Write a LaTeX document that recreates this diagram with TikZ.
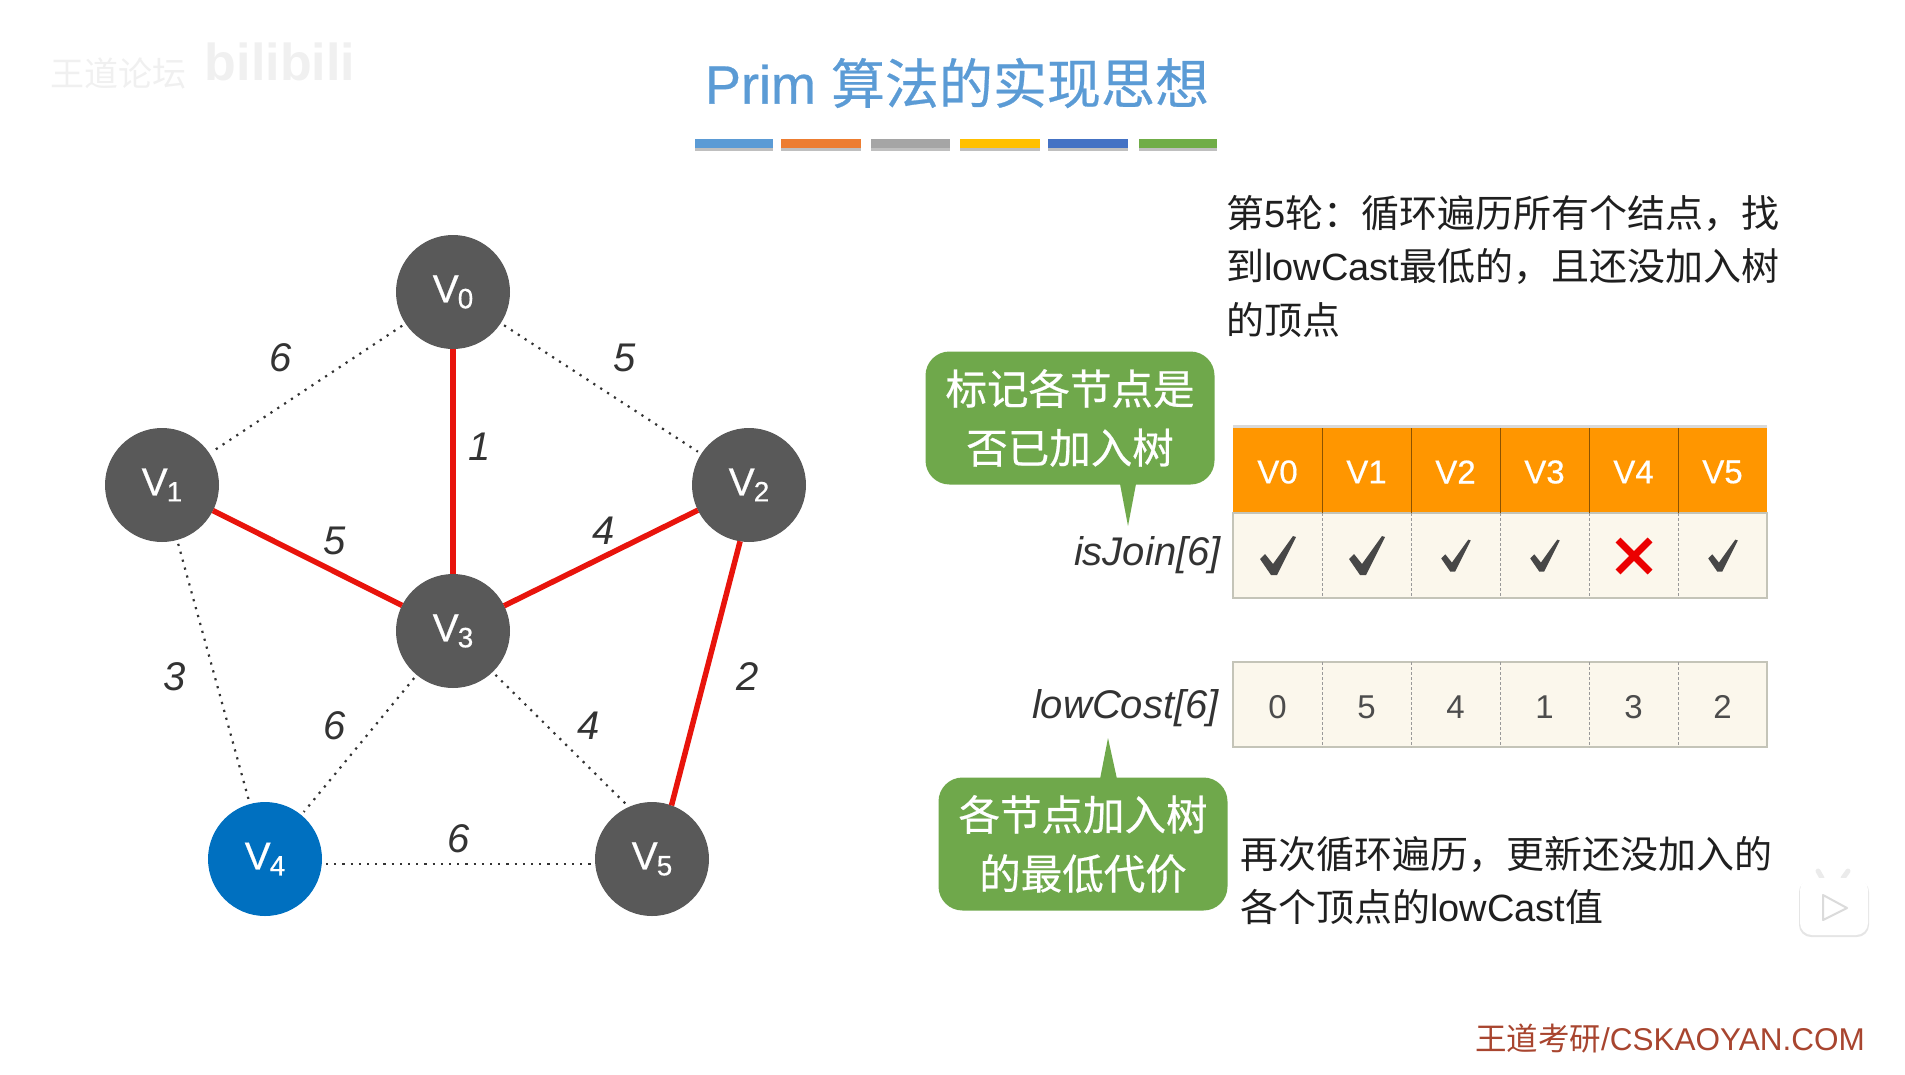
\documentclass[tikz,border=0pt]{standalone}
\usepackage{fontspec}
\setmainfont{Liberation Sans}
\newfontfamily\cjk{Noto Sans CJK SC}
\newfontfamily\medfont[FakeBold=0.5]{Liberation Sans}
\newfontfamily\cjkmed[FakeBold=0.5]{Noto Sans CJK SC}
\tikzset{
  vertex/.style={circle,fill=vgray,text=white,minimum size=114pt,inner sep=0pt,outer sep=0pt,font=\medfont\fontsize{39}{39}\selectfont},
  treeedge/.style={draw=treered,line width=5.5pt},
  otheredge/.style={draw=black!80,line width=2.2pt,dash pattern=on 2.2pt off 6pt,shorten >=4pt,shorten <=4pt},
  weight/.style={font=\fontsize{40}{40}\selectfont\itshape,text=black!80},
  para/.style={anchor=north west,align=left,inner sep=0pt,text=black!88,font=\cjk\fontsize{38}{53.5}\selectfont},
  bubble/.style={rounded corners=24pt,fill=bubblegreen,text=white,minimum width=289pt,minimum height=133pt,inner sep=0pt,align=center,font=\cjkmed\fontsize{41.5}{59}\selectfont},
  arrname/.style={anchor=east,inner sep=0pt,text=black!80,font=\fontsize{40}{40}\selectfont\itshape},
  cell/.style={font=\fontsize{33}{33}\selectfont}
}
\definecolor{vgray}{HTML}{595959}
\definecolor{vblue}{HTML}{0070C0}
\definecolor{treered}{HTML}{E8140C}
\definecolor{bubblegreen}{HTML}{6FA84B}
\definecolor{headorange}{HTML}{FF9600}
\definecolor{cellcream}{HTML}{FBF7EC}
\definecolor{cellline}{HTML}{C4C4B8}
\definecolor{titleblue}{HTML}{5B9BD5}
\definecolor{footred}{HTML}{A8452F}
\newcommand{\vname}[1]{V\kern-1pt\raisebox{-6pt}{\fontsize{28}{28}\selectfont #1}}
\begin{document}
\begin{tikzpicture}[x=1pt,y=-1pt]
  \useasboundingbox (0,0) rectangle (1905,1074);
  % title and bars
  \node[text=titleblue,font=\medfont\fontsize{54}{54}\selectfont] (title) at (957,83) {Prim {\cjkmed 算法的实现思想}};
  \foreach \x/\d/\c in {695/773/5B9BD5, 781/861/ED7D31, 871/950/A5A5A5, 960/1040/FFC000, 1048/1128/4472C4, 1139/1217/70AD47} {
    \definecolor{barcol}{HTML}{\c}
    \fill[black!25] (\x,143) rectangle (\d,151);
    \fill[barcol] (\x,139) rectangle (\d,148);
  }
  % watermark
  \node[text=black!6,font=\cjk\fontsize{34}{34}\selectfont] (mark) at (118,73) {王道论坛};
  \node[text=black!6,font=\fontsize{52}{52}\selectfont\bfseries] (bili) at (280,62) {bilibili};
  % graph
  \node[vertex] (v0) at (453,292) {\vname{0}};
  \node[vertex] (v1) at (162,485) {\vname{1}};
  \node[vertex] (v2) at (749,485) {\vname{2}};
  \node[vertex] (v3) at (453,631) {\vname{3}};
  \node[vertex,fill=vblue] (v4) at (265,859) {\vname{4}};
  \node[vertex] (v5) at (652,859) {\vname{5}};
  \foreach \a/\b in {v0/v1, v0/v2, v1/v4, v3/v4} {
    \draw[otheredge] (\a) -- (\b);
  }
  \draw[otheredge] (v3.-46) -- (v5.114);
  \draw[otheredge] ([yshift=-5pt]v4.east) -- ([yshift=-5pt]v5.west);
  \foreach \a/\b in {v0/v3, v1/v3, v2/v3} {
    \draw[treeedge] (\a) -- (\b);
  }
  \draw[treeedge] (v2.-99) -- (v5.70);
  \foreach \x/\y/\t in {281/358/6, 625/358/5, 480/447/1, 335/541/5, 604/531/4, 175/677/3, 748/677/2, 335/726/6, 589/726/4, 459/839/6} {
    \node[weight] at (\x,\y) {\t};
  }
  % text
  \node[para] (roundtext) at (1226,195) {第{\rmfamily 5}轮：循环遍历所有个结点，找\\到{\rmfamily lowCast}最低的，且还没加入树\\的顶点};
  \node[para] (updatetext) at (1240,836) {再次循环遍历，更新还没加入的\\各个顶点的{\rmfamily lowCast}值};
  % arrays
  \fill[black!15] (1233,425) rectangle (1767,430);
  \fill[headorange] (1233,428) rectangle (1767,513);
  \fill[cellcream] (1233,513) rectangle (1767,598);
  \draw[cellline,line width=1.5pt] (1233,513) rectangle (1767,598);
  \fill[cellcream] (1233,662) rectangle (1767,747);
  \draw[cellline,line width=1.5pt] (1233,662) rectangle (1767,747);
  \foreach \x/\d/\t/\c in {1233/1322/V0/0, 1322/1411/V1/5, 1411/1500/V2/4, 1500/1589/V3/1, 1589/1678/V4/3, 1678/1767/V5/2} {
    \node[cell,text=white,font=\medfont\fontsize{33}{33}\selectfont] at ({(\x+\d)/2},472) {\t};
    \node[cell,text=black!70] at ({(\x+\d)/2},707) {\c};
  }
  \foreach \x in {1322,1411,1500,1589,1678} {
    \draw[black!45!headorange,line width=1pt] (\x,428) -- (\x,513);
    \draw[black!40,line width=1pt,densely dashed] (\x,513) -- (\x,598);
    \draw[black!40,line width=1pt,densely dashed] (\x,662) -- (\x,747);
  }
  % ticks
  \foreach \x/\s in {1278/1, 1367/1, 1456/.82, 1545/.82, 1723/.82} {
    \fill[black!72,shift={(\x,556)},scale=\s] (-18,3) -- (-13,-2) -- (-5,8) -- (15,-20) -- (18,-19) -- (-1,19) -- (-7,19) -- cycle;
  }
  \draw[red!92!black,line width=7pt] (1618,540) -- (1650,572) (1650,540) -- (1618,572);
  \node[arrname] (joinname) at (1221,555) {isJoin[6]};
  \node[arrname] (costname) at (1219,708) {lowCost[6]};
  % bubbles
  \node[bubble] (joinnote) at (1070,418) {标记各节点是\\否已加入树};
  \fill[bubblegreen] (1120,484) -- (1128,526) -- (1136,484) -- cycle;
  \node[bubble] (costnote) at (1083,844) {各节点加入树\\的最低代价};
  \fill[bubblegreen] (1100,779) -- (1108,738) -- (1117,779) -- cycle;
  % play badge and footer
  \draw[black!8,line width=5pt,line cap=round] (1822,878) -- (1818,871) (1843,878) -- (1848,871);
  \fill[black!10,rounded corners=12pt] (1799,880) rectangle (1869,937);
  \fill[white,rounded corners=12pt] (1800,878) rectangle (1868,935);
  \draw[black!14,line width=2pt,line join=round] (1823,895) -- (1847,908) -- (1823,920) -- cycle;
  \node[anchor=east,text=footred,inner sep=0pt,font=\fontsize{31.5}{31.5}\selectfont] (footer) at (1865,1039) {{\cjk 王道考研}/CSKAOYAN.COM};
\end{tikzpicture}
\end{document}
